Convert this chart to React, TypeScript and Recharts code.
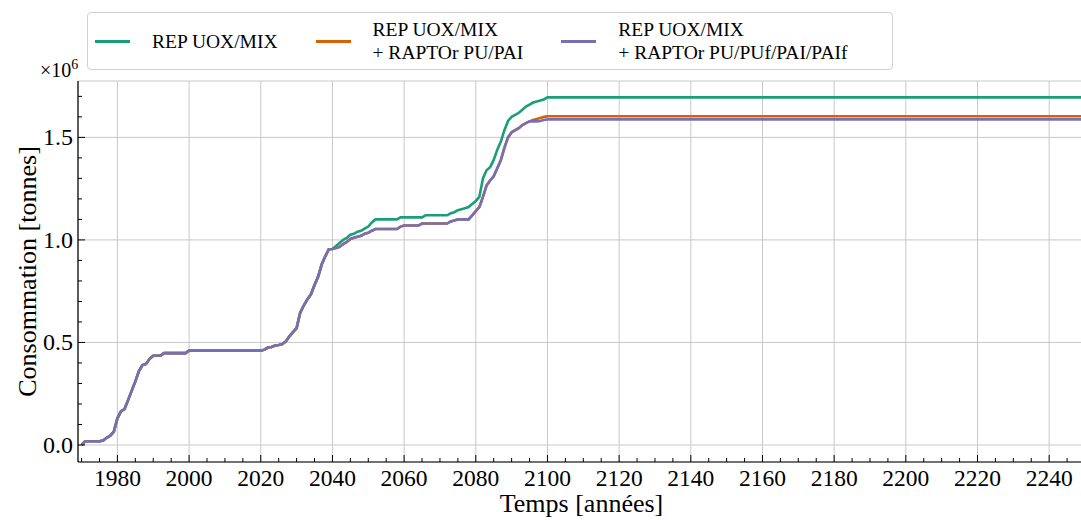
import { LineChart, Line, XAxis, YAxis, CartesianGrid, Legend } from "recharts";

const FONT = '"Liberation Serif", "DejaVu Serif", serif';

// years 1970..2100 yearly, then the end of the simulation
const years = [...Array.from({ length: 131 }, (_, i) => 1970 + i), 2250];

// consumption, in 10^6 tonnes
const repUoxMix = [
  0.0, 0.018, 0.018, 0.018, 0.018, 0.018, 0.022, 0.035, 0.045, 0.065,
  0.13, 0.165, 0.175, 0.22, 0.265, 0.31, 0.36, 0.39, 0.395, 0.42,
  0.435, 0.435, 0.435, 0.448, 0.448, 0.448, 0.448, 0.448, 0.448, 0.448,
  0.46, 0.46, 0.46, 0.46, 0.46, 0.46, 0.46, 0.46, 0.46, 0.46,
  0.46, 0.46, 0.46, 0.46, 0.46, 0.46, 0.46, 0.46, 0.46, 0.46,
  0.46, 0.465, 0.475, 0.478, 0.485, 0.488, 0.492, 0.505, 0.53, 0.55,
  0.57, 0.645, 0.68, 0.71, 0.735, 0.78, 0.82, 0.88, 0.92, 0.955,
  0.956, 0.97, 0.985, 1.0, 1.01, 1.025, 1.03, 1.04, 1.045, 1.055,
  1.065, 1.085, 1.1, 1.1, 1.1, 1.1, 1.1, 1.1, 1.1, 1.11,
  1.11, 1.11, 1.11, 1.11, 1.11, 1.11, 1.12, 1.12, 1.12, 1.12,
  1.12, 1.12, 1.12, 1.13, 1.135, 1.145, 1.15, 1.155, 1.16, 1.175,
  1.19, 1.21, 1.3, 1.34, 1.355, 1.39, 1.44, 1.48, 1.535, 1.58,
  1.6, 1.61, 1.62, 1.635, 1.65, 1.66, 1.67, 1.675, 1.68, 1.685,
  1.695, 1.695,
];

const raptorPuPai = [
  0.0, 0.018, 0.018, 0.018, 0.018, 0.018, 0.022, 0.035, 0.045, 0.065,
  0.13, 0.165, 0.175, 0.22, 0.265, 0.31, 0.36, 0.39, 0.395, 0.42,
  0.435, 0.435, 0.435, 0.448, 0.448, 0.448, 0.448, 0.448, 0.448, 0.448,
  0.46, 0.46, 0.46, 0.46, 0.46, 0.46, 0.46, 0.46, 0.46, 0.46,
  0.46, 0.46, 0.46, 0.46, 0.46, 0.46, 0.46, 0.46, 0.46, 0.46,
  0.46, 0.465, 0.475, 0.478, 0.485, 0.488, 0.492, 0.505, 0.53, 0.55,
  0.57, 0.645, 0.68, 0.71, 0.735, 0.78, 0.82, 0.88, 0.92, 0.955,
  0.956, 0.96, 0.966, 0.98, 0.99, 1.005, 1.01, 1.015, 1.02, 1.03,
  1.035, 1.045, 1.053, 1.053, 1.053, 1.053, 1.053, 1.053, 1.053, 1.065,
  1.07, 1.07, 1.07, 1.07, 1.07, 1.08, 1.08, 1.08, 1.08, 1.08,
  1.08, 1.08, 1.08, 1.09, 1.095, 1.1, 1.1, 1.1, 1.1, 1.12,
  1.14, 1.16, 1.21, 1.265, 1.29, 1.31, 1.35, 1.39, 1.45, 1.5,
  1.525, 1.535, 1.545, 1.56, 1.57, 1.578, 1.585, 1.59, 1.595, 1.6,
  1.603, 1.603,
];

const raptorPuPufPaiPaif = [
  0.0, 0.018, 0.018, 0.018, 0.018, 0.018, 0.022, 0.035, 0.045, 0.065,
  0.13, 0.165, 0.175, 0.22, 0.265, 0.31, 0.36, 0.39, 0.395, 0.42,
  0.435, 0.435, 0.435, 0.448, 0.448, 0.448, 0.448, 0.448, 0.448, 0.448,
  0.46, 0.46, 0.46, 0.46, 0.46, 0.46, 0.46, 0.46, 0.46, 0.46,
  0.46, 0.46, 0.46, 0.46, 0.46, 0.46, 0.46, 0.46, 0.46, 0.46,
  0.46, 0.465, 0.475, 0.478, 0.485, 0.488, 0.492, 0.505, 0.53, 0.55,
  0.57, 0.645, 0.68, 0.71, 0.735, 0.78, 0.82, 0.88, 0.92, 0.955,
  0.956, 0.96, 0.966, 0.98, 0.99, 1.005, 1.01, 1.015, 1.02, 1.03,
  1.035, 1.045, 1.053, 1.053, 1.053, 1.053, 1.053, 1.053, 1.053, 1.065,
  1.07, 1.07, 1.07, 1.07, 1.07, 1.08, 1.08, 1.08, 1.08, 1.08,
  1.08, 1.08, 1.08, 1.09, 1.095, 1.1, 1.1, 1.1, 1.1, 1.12,
  1.14, 1.16, 1.21, 1.265, 1.29, 1.31, 1.35, 1.39, 1.45, 1.5,
  1.525, 1.535, 1.545, 1.56, 1.57, 1.578, 1.578, 1.578, 1.58, 1.585,
  1.588, 1.588,
];

const seriesNames = [
  "REP UOX/MIX",
  "REP UOX/MIX\n+ RAPTOr PU/PAI",
  "REP UOX/MIX\n+ RAPTOr PU/PUf/PAI/PAIf",
];
const seriesColors = ["#1b9e77", "#d95f02", "#7570b3"];

const xMajorTicks = [1980, 2000, 2020, 2040, 2060, 2080, 2100, 2120, 2140, 2160, 2180, 2200, 2220, 2240];
const yMajorTicks = [0, 0.5, 1.0, 1.5];
const yTickLabels = ["0.0", "0.5", "1.0", "1.5"];

// minor ticks: every 5 years / every 0.1
const xAllTicks = Array.from({ length: 56 }, (_, i) => 1970 + i * 5);
const yTicks = Array.from({ length: 18 }, (_, i) => i / 10);

const X_DOMAIN: [number, number] = [1969, 2250];
const Y_DOMAIN: [number, number] = [-0.083, 1.775];

const data = years.map((year, i) => ({
  year,
  uox: repUoxMix[i],
  pai: raptorPuPai[i],
  paif: raptorPuPufPaiPaif[i],
}));

const majorIndex = (v: number) => yMajorTicks.findIndex((m) => Math.abs(m - v) < 1e-6);

const BottomTick = (props: any) => {
  const { x, y, payload } = props;
  const major = xMajorTicks.includes(payload.value);
  return (
    <g>
      <line x1={x} x2={x} y1={y} y2={y - (major ? 7 : 4)} stroke="#000" strokeWidth={1} />
      {major && (
        <text x={x} y={y + 24} textAnchor="middle" fontSize={23.5} fill="#000" fontFamily={FONT}>
          {payload.value}
        </text>
      )}
    </g>
  );
};

const TopTick = (props: any) => {
  const { x, y, payload } = props;
  const major = xMajorTicks.includes(payload.value);
  return <line x1={x} x2={x} y1={y} y2={y + (major ? 7 : 4)} stroke="#000" strokeWidth={1} />;
};

const LeftTick = (props: any) => {
  const { x, y, payload } = props;
  const idx = majorIndex(payload.value);
  const major = idx >= 0;
  return (
    <g>
      <line x1={x} x2={x + (major ? 7 : 4)} y1={y} y2={y} stroke="#000" strokeWidth={1} />
      {major && (
        <text x={x - 5} y={y + 8} textAnchor="end" fontSize={24} fill="#000" fontFamily={FONT}>
          {yTickLabels[idx]}
        </text>
      )}
    </g>
  );
};

const RightTick = (props: any) => {
  const { x, y, payload } = props;
  const major = majorIndex(payload.value) >= 0;
  return <line x1={x} x2={x - (major ? 7 : 4)} y1={y} y2={y} stroke="#000" strokeWidth={1} />;
};

const XTitle = (props: any) => {
  const vb = props.viewBox || { x: 78, y: 462, width: 1007, height: 58 };
  return (
    <text x={vb.x + vb.width / 2} y={vb.y + 50} textAnchor="middle" fontSize={26} fill="#000" fontFamily={FONT}>
      Temps [années]
    </text>
  );
};

// y title plus the ×10^6 offset text above the axis
const YTitle = (props: any) => {
  const vb = props.viewBox || { x: 0, y: 81, width: 78, height: 381 };
  const cx = 36;
  const cy = vb.y + vb.height / 2;
  return (
    <g>
      <text x={cx} y={cy} transform={`rotate(-90, ${cx}, ${cy})`} textAnchor="middle" fontSize={26} fill="#000" fontFamily={FONT}>
        Consommation [tonnes]
      </text>
      <text x={vb.x + vb.width - 38} y={vb.y - 4} fontSize={20} fill="#000" fontFamily={FONT}>
        ×10
        <tspan dy={-8} fontSize={14}>6</tspan>
      </text>
    </g>
  );
};

const renderLegend = (props: any) => (
  <div
    style={{
      boxSizing: "border-box",
      width: 806,
      height: 58,
      border: "1px solid #d0d0d0",
      borderRadius: 4,
      background: "#fff",
      display: "flex",
      alignItems: "center",
      paddingLeft: 7,
      gap: 38,
      fontFamily: FONT,
      fontSize: 19.5,
      lineHeight: "23px",
      color: "#000",
    }}
  >
    {(props.payload || []).map((entry: any) => (
      <div key={entry.value} style={{ display: "flex", alignItems: "center" }}>
        <span style={{ display: "inline-block", width: 35, height: 3, background: entry.color, marginRight: 22 }} />
        <span style={{ whiteSpace: "pre-line" }}>{entry.value}</span>
      </div>
    ))}
  </div>
);

export default function App() {
  return (
    <div style={{ position: "absolute", left: 0, top: 0, width: 1081, height: 520, overflow: "hidden", background: "#fff" }}>
      <LineChart
        width={1087}
        height={520}
        data={data}
        margin={{ top: 81, right: 2, bottom: 0, left: 0 }}
      >
        <CartesianGrid xAxisId="g" yAxisId="g" stroke="#c8c8c8" strokeWidth={1} />
        <XAxis xAxisId="g" dataKey="year" type="number" domain={X_DOMAIN} allowDataOverflow ticks={xMajorTicks} height={0} hide />
        <YAxis yAxisId="g" type="number" domain={Y_DOMAIN} allowDataOverflow ticks={yMajorTicks} width={0} hide />
        <XAxis
          xAxisId="b"
          dataKey="year"
          type="number"
          orientation="bottom"
          domain={X_DOMAIN}
          allowDataOverflow
          ticks={xAllTicks}
          interval={0}
          height={58}
          tickSize={0}
          tickMargin={0}
          tickLine={false}
          axisLine={{ stroke: "#000", strokeWidth: 1.2 }}
          tick={<BottomTick />}
          label={{ content: XTitle }}
        />
        <XAxis
          xAxisId="t"
          dataKey="year"
          type="number"
          orientation="top"
          domain={X_DOMAIN}
          allowDataOverflow
          ticks={xAllTicks}
          interval={0}
          height={0}
          tickSize={0}
          tickMargin={0}
          tickLine={false}
          axisLine={{ stroke: "#000", strokeWidth: 1.2 }}
          tick={<TopTick />}
        />
        <YAxis
          yAxisId="l"
          type="number"
          orientation="left"
          domain={Y_DOMAIN}
          allowDataOverflow
          ticks={yTicks}
          interval={0}
          width={78}
          tickSize={0}
          tickMargin={0}
          tickLine={false}
          axisLine={{ stroke: "#000", strokeWidth: 1.2 }}
          tick={<LeftTick />}
          label={{ content: YTitle }}
        />
        <YAxis
          yAxisId="r"
          type="number"
          orientation="right"
          domain={Y_DOMAIN}
          allowDataOverflow
          ticks={yTicks}
          interval={0}
          width={0}
          tickSize={0}
          tickMargin={0}
          tickLine={false}
          axisLine={{ stroke: "#000", strokeWidth: 1.2 }}
          tick={<RightTick />}
        />
        <Legend
          layout="horizontal"
          verticalAlign="middle"
          align="center"
          content={renderLegend}
          wrapperStyle={{ left: 87, top: 12, width: 806, height: 58 }}
        />
        <Line xAxisId="b" yAxisId="l" type="linear" dataKey="uox" name={seriesNames[0]} stroke={seriesColors[0]} strokeWidth={2.6} dot={false} isAnimationActive={false} />
        <Line xAxisId="b" yAxisId="l" type="linear" dataKey="pai" name={seriesNames[1]} stroke={seriesColors[1]} strokeWidth={2.6} dot={false} isAnimationActive={false} />
        <Line xAxisId="b" yAxisId="l" type="linear" dataKey="paif" name={seriesNames[2]} stroke={seriesColors[2]} strokeWidth={2.6} dot={false} isAnimationActive={false} />
      </LineChart>
    </div>
  );
}
